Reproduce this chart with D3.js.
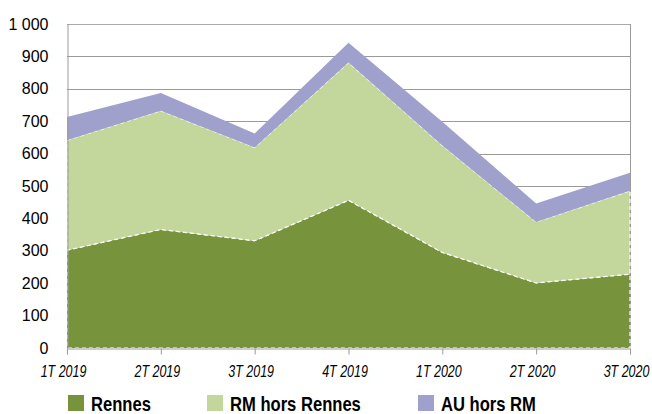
<!DOCTYPE html>
<html>
<head>
<meta charset="utf-8">
<script src="https://cdn.jsdelivr.net/npm/d3@7"></script>
<style>
  body { margin: 0; background: #fff; }
  svg { display: block; }
  .y-axis text { font-family: "Liberation Sans", Arial, sans-serif; font-size: 16px; fill: #000; }
  .x-axis text { font-family: "Liberation Sans", Arial, sans-serif; font-style: italic; font-size: 16px; fill: #000; }
  .legend text { font-family: "Liberation Sans", Arial, sans-serif; font-weight: bold; font-size: 20px; fill: #000; }
</style>
</head>
<body>
<div id="chart"></div>
<script>
// data
const quarters = ['1T 2019', '2T 2019', '3T 2019', '4T 2019', '1T 2020', '2T 2020', '3T 2020'];
const rennes = [302, 366, 331, 456, 295, 201, 228];
const rmHorsRennes = [339, 366, 288, 425, 330, 188, 257];
const auHorsRm = [72, 55, 43, 61, 73, 57, 56];
const seriesNames = ['Rennes', 'RM hors Rennes', 'AU hors RM'];
const yTicks = [0, 100, 200, 300, 400, 500, 600, 700, 800, 900, 1000];

const colors = ['#77933c', '#c3d69b', '#a0a0cc'];

const W = 652;
const H = 414;
const MARGIN_LEFT = 67;
const MARGIN_RIGHT = 22;
const MARGIN_TOP = 24;
const MARGIN_BOTTOM = 66;
const NARROW = 0.78; // condensed look, no narrow font installed

const $svg = d3.select('#chart').append('svg').attr('width', W).attr('height', H);

const rows = quarters.map((q, i) => ({
  q,
  'Rennes': rennes[i],
  'RM hors Rennes': rmHorsRennes[i],
  'AU hors RM': auHorsRm[i],
}));
const stacked = d3.stack().keys(seriesNames)(rows);

const scaleX = d3.scalePoint().domain(quarters).range([MARGIN_LEFT, W - MARGIN_RIGHT]);
const scaleY = d3.scaleLinear().domain([0, 1000]).range([H - MARGIN_BOTTOM, MARGIN_TOP]);

// grid
$svg.append('g')
  .selectAll('line')
  .data(yTicks.filter((d) => d > 0))
  .join('line')
  .attr('x1', MARGIN_LEFT)
  .attr('x2', W - MARGIN_RIGHT)
  .attr('y1', (d) => Math.round(scaleY(d)) + 0.5)
  .attr('y2', (d) => Math.round(scaleY(d)) + 0.5)
  .attr('stroke', (d) => (d === 1000 ? '#aaa' : '#9a9a9a'))
  .attr('stroke-width', 1);

// right frame
$svg.append('line')
  .attr('x1', W - MARGIN_RIGHT + 0.5).attr('x2', W - MARGIN_RIGHT + 0.5)
  .attr('y1', scaleY(1000)).attr('y2', scaleY(0))
  .attr('stroke', '#9a9a9a');

// areas
const area = d3.area()
  .x((d) => scaleX(d.data.q))
  .y0((d) => scaleY(d[0]))
  .y1((d) => scaleY(d[1]));

$svg.append('g')
  .selectAll('path')
  .data(stacked)
  .join('path')
  .attr('d', area)
  .attr('fill', (d, i) => colors[i])
  .attr('stroke', (d, i) => (i < 2 ? '#fff' : 'none'))
  .attr('stroke-width', 1.2)
  .attr('stroke-dasharray', '4,3');

// y axis
const $yAxis = $svg.append('g')
  .attr('class', 'y-axis')
  .attr('transform', `translate(${MARGIN_LEFT + 0.5},0)`)
  .call(d3.axisLeft(scaleY).tickValues(yTicks).tickSize(0).tickPadding(19)
    .tickFormat((d) => d3.format(',')(d).replace(',', ' ')));
$yAxis.select('.domain').attr('stroke', '#9a9a9a');

// x axis
const $xAxis = $svg.append('g')
  .attr('class', 'x-axis')
  .attr('transform', `translate(0,${Math.round(scaleY(0)) + 0.5})`)
  .call(d3.axisBottom(scaleX).tickSize(6).tickPadding(8));
$xAxis.select('.domain').attr('stroke', '#9a9a9a');
$xAxis.selectAll('.tick line').attr('stroke', '#9a9a9a');
$xAxis.selectAll('.tick text')
  .attr('y', 0)
  .attr('dy', 0)
  .attr('transform', `translate(-4,28) scale(${NARROW},1)`);

// legend
const legendX = [68, 207, 418];
const $legend = $svg.append('g').attr('class', 'legend');
const $items = $legend.selectAll('g')
  .data(seriesNames)
  .join('g')
  .attr('transform', (d, i) => `translate(${legendX[i]},395)`);
$items.append('rect')
  .attr('width', 16).attr('height', 16)
  .attr('fill', (d, i) => colors[i]);
$items.append('text')
  .attr('transform', `translate(23,16) scale(0.83,1)`)
  .text((d) => d);
</script>
</body>
</html>
